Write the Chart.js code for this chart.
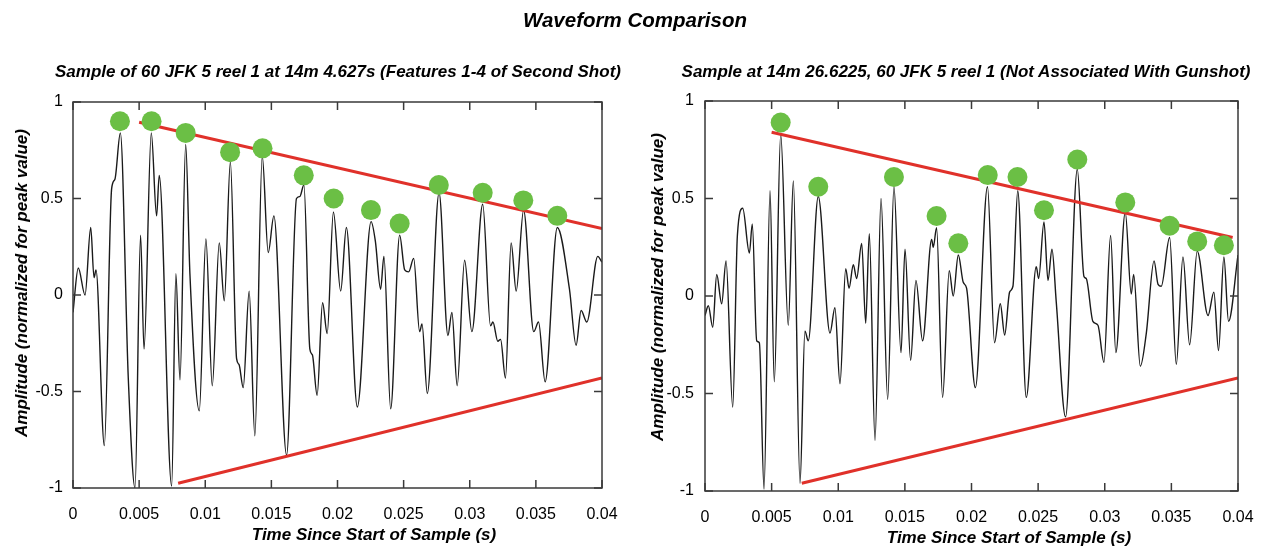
<!DOCTYPE html>
<html lang="en">
<head>
    <meta charset="UTF-8">
    <title>Waveform Comparison</title>
    <script src="https://cdn.jsdelivr.net/npm/chart.js"></script>
    <style>
        body { margin: 0; background: #fff; font-family: "Liberation Sans", Arial, sans-serif; }
        .txt { position: absolute; white-space: nowrap; font-weight: bold; font-style: italic; color: #000; transform: translate(-50%, -50%); }
        .ytitle { transform: translate(-50%, -50%) rotate(-90deg); }
        #title { left: 635px; top: 20px; font-size: 20.5px; }
        #subL { left: 338px; top: 72px; font-size: 17px; }
        #subR { left: 966px; top: 72px; font-size: 17px; }
        #xtL { left: 374px; top: 535px; font-size: 17px; }
        #xtR { left: 1009px; top: 538px; font-size: 17px; }
        #ytL { left: 22px; top: 283px; font-size: 17px; }
        #ytR { left: 658px; top: 287px; font-size: 17px; }
        canvas { position: absolute; top: 0; }
        #leftChart { left: 0; }
        #rightChart { left: 635px; }
    </style>
    <script>
        // time in ms since start of sample, amplitude normalized
        const leftTime = [0, 0.40, 0.91, 1.34, 1.59, 1.74, 2.37, 2.92, 3.17, 3.58, 4.18, 4.69, 5.11, 5.37, 5.92,
            6.32, 6.52, 7.46, 7.78, 8.09, 8.52, 8.84, 9.55, 10.05, 10.53, 11.06, 11.44, 11.90, 12.37, 12.55,
            12.87, 13.32, 13.75, 14.31, 14.76, 15.19, 16.15, 16.90, 17.15, 17.46, 17.91, 18.10, 18.46, 18.87,
            19.22, 19.69, 20.24, 20.67, 21.50, 22.54, 22.86, 23.26, 23.51, 24.02, 24.70, 25.08, 25.38, 25.76,
            26.21, 26.39, 26.79, 27.68, 28.35, 28.65, 29.05, 29.61, 30.16, 30.98, 31.57, 31.75, 32.12, 32.33,
            32.70, 33.13, 33.51, 34.07, 34.84, 35.20, 35.70, 36.62, 37.54, 38.04, 38.42, 38.85, 39.68, 40.0];
        const leftAmp = [-0.09, 0.14, 0.00, 0.35, 0.09, 0.13, -0.78, 0.55, 0.60, 0.84, -0.43, -1.0, 0.31, -0.28, 0.84,
            0.41, 0.62, -0.99, 0.11, -0.44, 0.78, 0.11, -0.60, 0.29, -0.47, 0.27, -0.03, 0.69, -0.33, -0.36,
            -0.48, 0.02, -0.73, 0.72, 0.22, 0.41, -0.83, 0.50, 0.51, 0.57, -0.28, -0.31, -0.52, -0.04,
            -0.20, 0.43, 0.02, 0.35, -0.58, 0.38, 0.28, 0.03, 0.20, -0.59, 0.31, 0.13, 0.12, 0.19,
            -0.19, -0.15, -0.51, 0.53, -0.21, -0.09, -0.47, 0.18, -0.19, 0.47, -0.16, -0.14, -0.24, -0.23,
            -0.43, 0.27, 0.02, 0.44, -0.19, -0.14, -0.45, 0.35, 0.03, -0.26, -0.08, -0.14, 0.20, 0.17];
        const leftPeakTime = [3.55, 5.94, 8.52, 11.88, 14.33, 17.45, 19.71, 22.53, 24.70, 27.66, 30.98, 34.05, 36.62];
        const leftPeakAmp = [0.90, 0.90, 0.84, 0.74, 0.76, 0.62, 0.50, 0.44, 0.37, 0.57, 0.53, 0.49, 0.41];
        const leftUpperTime = [5.0, 40.0];
        const leftUpperAmp = [0.895, 0.345];
        const leftLowerTime = [7.95, 40.0];
        const leftLowerAmp = [-0.975, -0.43];

        const rightTime = [0, 0.25, 0.58, 0.88, 1.25, 1.58, 2.08, 2.43, 2.83, 3.33, 3.55, 3.88, 4.08, 4.43, 4.88,
            5.20, 5.68, 6.25, 6.63, 7.13, 7.50, 7.75, 8.50, 9.38, 9.75, 10.13, 10.56, 10.81, 11.13, 11.38,
            11.76, 12.06, 12.33, 12.76, 13.21, 13.71, 14.18, 14.71, 15.01, 15.43, 15.83, 16.33, 17.01, 17.13,
            17.38, 17.83, 18.33, 18.63, 19.01, 19.38, 19.63, 20.29, 21.20, 21.73, 22.16, 22.49, 22.86, 23.11,
            23.47, 24.11, 24.86, 25.04, 25.44, 25.74, 26.04, 26.36, 27.06, 27.94, 28.44, 28.61, 29.11, 29.49,
            29.94, 30.44, 30.83, 31.54, 31.99, 32.17, 32.67, 33.12, 33.70, 34.00, 34.24, 34.87, 35.37, 35.87,
            36.37, 36.94, 37.75, 38.19, 38.54, 38.94, 39.29, 40.0];
        const rightAmp = [-0.10, -0.05, -0.16, 0.11, -0.04, 0.18, -0.57, 0.31, 0.45, 0.22, 0.37, -0.23, -0.24, -0.99, 0.54,
            -0.44, 0.83, -0.15, 0.59, -0.96, -0.18, -0.23, 0.51, -0.19, -0.06, -0.45, 0.14, 0.04, 0.16, 0.09,
            0.27, -0.14, 0.32, -0.74, 0.50, -0.53, 0.56, -0.29, 0.24, -0.33, 0.08, -0.23, 0.29, 0.25,
            0.35, -0.52, 0.13, 0.00, 0.21, 0.07, 0.04, -0.47, 0.56, -0.24, -0.04, -0.20, 0.02, 0.05,
            0.54, -0.52, 0.15, 0.09, 0.38, 0.08, 0.24, -0.03, -0.62, 0.65, 0.10, 0.09, -0.13, -0.15,
            -0.34, 0.31, -0.29, 0.43, 0.01, 0.11, -0.36, -0.19, 0.18, 0.06, 0.05, 0.30, -0.35, 0.20,
            -0.25, 0.23, -0.10, 0.02, -0.28, 0.20, -0.13, 0.21];
        const rightPeakTime = [5.68, 8.50, 14.18, 17.38, 19.01, 21.22, 23.45, 25.44, 27.94, 31.54, 34.87, 36.94, 38.94];
        const rightPeakAmp = [0.89, 0.56, 0.61, 0.41, 0.27, 0.62, 0.61, 0.44, 0.70, 0.48, 0.36, 0.28, 0.26];
        const rightUpperTime = [5.0, 39.6];
        const rightUpperAmp = [0.84, 0.30];
        const rightLowerTime = [7.26, 40.0];
        const rightLowerAmp = [-0.96, -0.42];

        const xTickLabels = ['0', '0.005', '0.01', '0.015', '0.02', '0.025', '0.03', '0.035', '0.04'];
        const yTickLabels = ['-1', '-0.5', '0', '0.5', '1'];

        function pts(t, v) {
            return t.map((x, i) => ({ x: x, y: v[i] }));
        }

        // box around the plot with inward tick marks on all four sides
        const frame = {
            id: 'frame',
            afterDatasetsDraw(chart) {
                const { ctx, chartArea: a, scales: { x, y } } = chart;
                ctx.save();
                ctx.strokeStyle = '#3a3a3a';
                ctx.lineWidth = 1.5;
                ctx.strokeRect(a.left, a.top, a.right - a.left, a.bottom - a.top);
                ctx.beginPath();
                x.ticks.forEach(t => {
                    const p = x.getPixelForValue(t.value);
                    ctx.moveTo(p, a.bottom); ctx.lineTo(p, a.bottom - 8);
                    ctx.moveTo(p, a.top); ctx.lineTo(p, a.top + 8);
                });
                y.ticks.forEach(t => {
                    const p = y.getPixelForValue(t.value);
                    ctx.moveTo(a.left, p); ctx.lineTo(a.left + 8, p);
                    ctx.moveTo(a.right, p); ctx.lineTo(a.right - 8, p);
                });
                ctx.stroke();
                ctx.restore();
            }
        };

        function makeChart(id, wave, peaks, upper, lower, g) {
            return new Chart(document.getElementById(id), {
                type: 'line',
                data: {
                    datasets: [
                        { data: peaks, showLine: false, pointRadius: 10, pointHoverRadius: 10,
                          pointBackgroundColor: '#6bbf45', pointBorderWidth: 0 },
                        { data: upper, borderColor: '#e0312a', borderWidth: 3, pointRadius: 0 },
                        { data: lower, borderColor: '#e0312a', borderWidth: 3, pointRadius: 0 },
                        { data: wave, borderColor: '#1a1a1a', borderWidth: 1.4, pointRadius: 0,
                          cubicInterpolationMode: 'monotone' }
                    ]
                },
                options: {
                    responsive: false,
                    animation: false,
                    layout: { padding: { top: g.top, right: g.right, left: 0, bottom: 0 } },
                    plugins: { legend: { display: false }, tooltip: { enabled: false } },
                    scales: {
                        x: {
                            type: 'linear', min: 0, max: 40,
                            grid: { display: false }, border: { display: false },
                            ticks: { stepSize: 5, autoSkip: false, maxRotation: 0, padding: 9,
                                     color: '#000', font: { size: 16 },
                                     callback: v => xTickLabels[Math.round(v / 5)] },
                            afterFit: s => { s.height = g.xHeight; }
                        },
                        y: {
                            min: -1, max: 1,
                            grid: { display: false }, border: { display: false },
                            ticks: { stepSize: 0.5, padding: g.yTickPad, color: '#000', font: { size: 16 },
                                     callback: v => yTickLabels[Math.round((v + 1) / 0.5)] },
                            afterFit: s => { s.width = g.yWidth; }
                        }
                    }
                },
                plugins: [frame]
            });
        }

        window.onload = function() {
            Chart.defaults.font.family = '"Liberation Sans", Arial, sans-serif';
            makeChart('leftChart', pts(leftTime, leftAmp), pts(leftPeakTime, leftPeakAmp),
                pts(leftUpperTime, leftUpperAmp), pts(leftLowerTime, leftLowerAmp),
                { top: 102, right: 33, yWidth: 73, xHeight: 58, yTickPad: 2 });
            makeChart('rightChart', pts(rightTime, rightAmp), pts(rightPeakTime, rightPeakAmp),
                pts(rightUpperTime, rightUpperAmp), pts(rightLowerTime, rightLowerAmp),
                { top: 101, right: 32, yWidth: 70, xHeight: 55, yTickPad: 3 });
        };
    </script>
</head>
<body>
    <canvas id="leftChart" width="635" height="546"></canvas>
    <canvas id="rightChart" width="635" height="546"></canvas>
    <div class="txt" id="title">Waveform Comparison</div>
    <div class="txt" id="subL">Sample of 60 JFK 5 reel 1 at 14m 4.627s (Features 1-4 of Second Shot)</div>
    <div class="txt" id="subR">Sample at 14m 26.6225, 60 JFK 5 reel 1 (Not Associated With Gunshot)</div>
    <div class="txt" id="xtL">Time Since Start of Sample (s)</div>
    <div class="txt" id="xtR">Time Since Start of Sample (s)</div>
    <div class="txt ytitle" id="ytL">Amplitude (normalized for peak value)</div>
    <div class="txt ytitle" id="ytR">Amplitude (normalized for peak value)</div>
</body>
</html>
